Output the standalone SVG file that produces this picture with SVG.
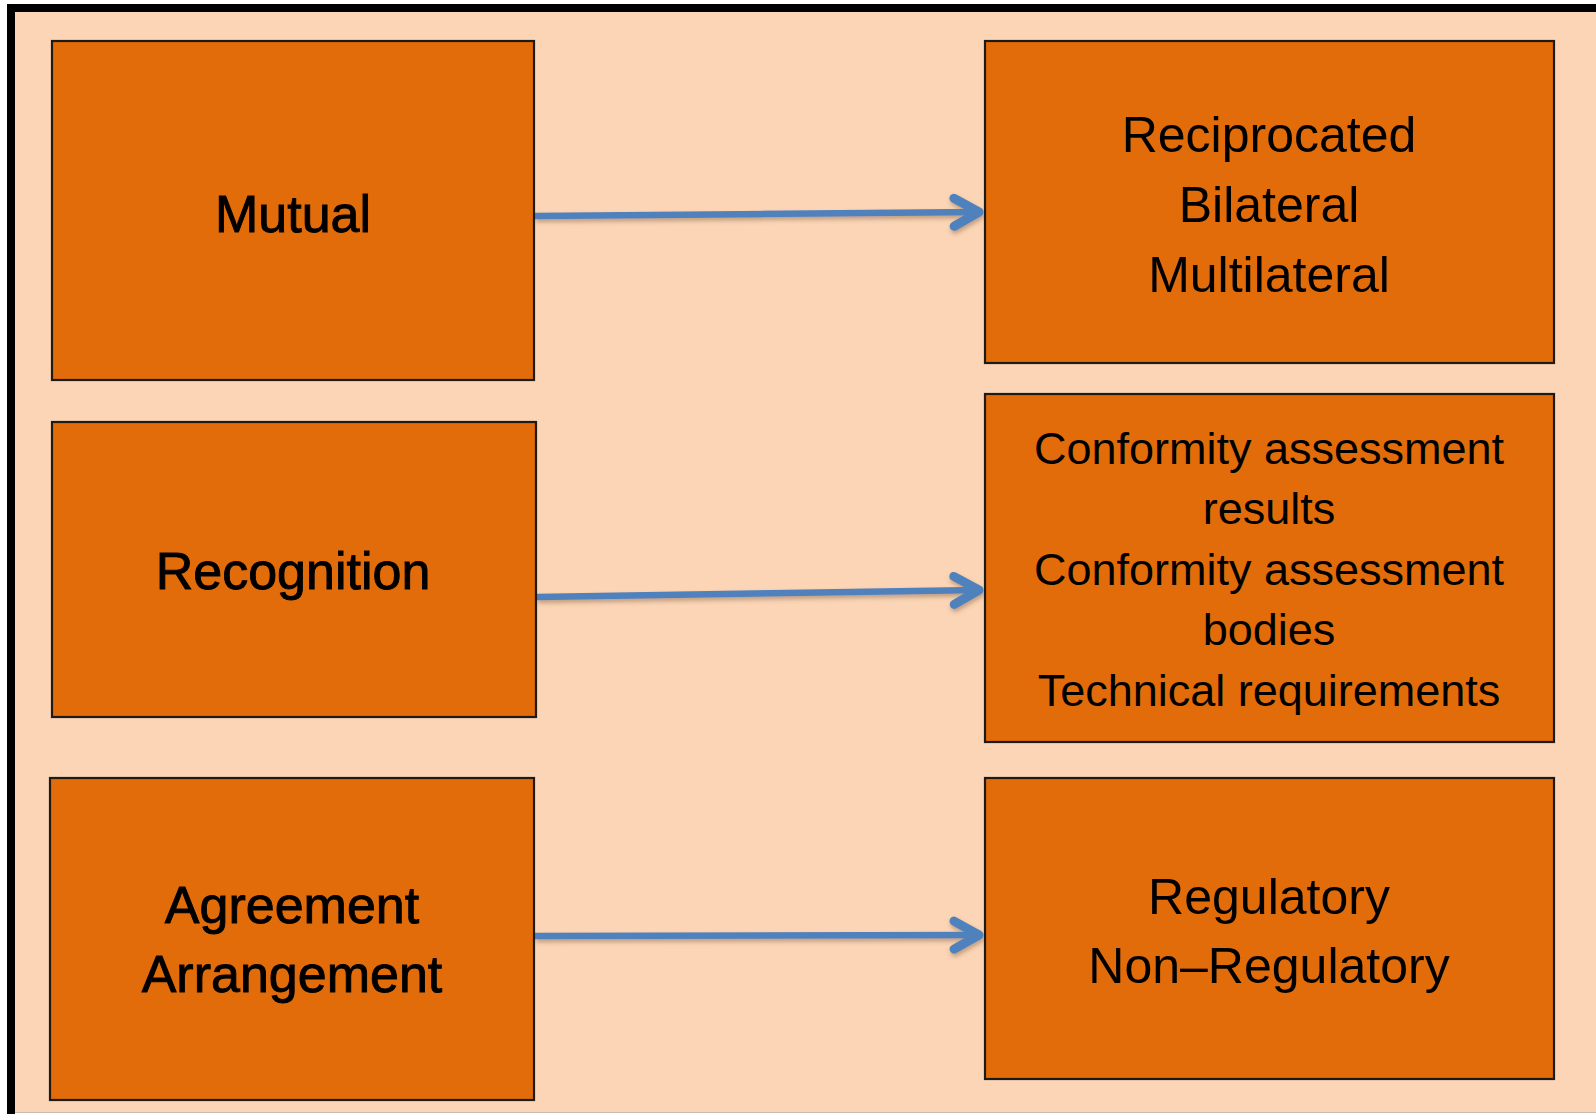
<svg xmlns="http://www.w3.org/2000/svg" width="1596" height="1114" viewBox="0 0 1596 1114">
<defs>
<style>
.box{fill:#E36C0A;stroke:#1e1a16;stroke-width:2.2}
.lbl{font-family:"Liberation Sans",Arial,sans-serif;fill:#000;text-anchor:middle}
.left{font-size:52px;stroke:#000;stroke-width:0.9}
.r50{font-size:50px}
.r45{font-size:45px}
.conn{fill:none;stroke:#4F81BD;stroke-width:6.5;marker-end:url(#ah);filter:url(#sh)}
</style>
<marker id="ah" viewBox="-34 -22 40 44" markerWidth="40" markerHeight="44" refX="0" refY="0" orient="auto" markerUnits="userSpaceOnUse">
<path d="M-26,-14 L-1,0 L-26,14" fill="none" stroke="#4F81BD" stroke-width="9" stroke-linecap="round" stroke-linejoin="round"/>
</marker>
<filter id="sh" filterUnits="userSpaceOnUse" x="0" y="0" width="1596" height="1114">
<feDropShadow dx="1" dy="3" stdDeviation="2" flood-color="#7a5a40" flood-opacity="0.45"/>
</filter>
</defs>
<rect x="0" y="0" width="1596" height="1114" fill="#ffffff"/>
<rect x="11" y="8" width="1590" height="1104" fill="#FBD5B5"/>
<path d="M11,1114 V8 H1596" fill="none" stroke="#000" stroke-width="8"/>
<line x1="15" y1="1112.5" x2="1596" y2="1112.5" stroke="#cbbcae" stroke-width="1"/>

<g id="connectors">
<path class="conn" d="M535,216 L980,212"/>
<path class="conn" d="M537,597 L980,590"/>
<path class="conn" d="M535,936 L980,935"/>
</g>

<g id="node-mutual">
<rect class="box" x="52" y="41" width="482" height="339"/>
<text class="lbl left" x="293" y="232">Mutual</text>
</g>
<g id="node-recognition">
<rect class="box" x="52" y="422" width="484" height="295"/>
<text class="lbl left" x="293" y="589">Recognition</text>
</g>
<g id="node-agreement">
<rect class="box" x="50" y="778" width="484" height="322"/>
<text class="lbl left" x="292" y="923">Agreement</text>
<text class="lbl left" x="292" y="992">Arrangement</text>
</g>
<g id="node-types">
<rect class="box" x="985" y="41" width="569" height="322"/>
<text class="lbl r50" x="1269" y="152">Reciprocated</text>
<text class="lbl r50" x="1269" y="222">Bilateral</text>
<text class="lbl r50" x="1269" y="292">Multilateral</text>
</g>
<g id="node-scope">
<rect class="box" x="985" y="394" width="569" height="348"/>
<text class="lbl r45" x="1269" y="464">Conformity assessment</text>
<text class="lbl r45" x="1269" y="524">results</text>
<text class="lbl r45" x="1269" y="585">Conformity assessment</text>
<text class="lbl r45" x="1269" y="645">bodies</text>
<text class="lbl r45" x="1269" y="706">Technical requirements</text>
</g>
<g id="node-regulatory">
<rect class="box" x="985" y="778" width="569" height="301"/>
<text class="lbl r50" x="1269" y="914">Regulatory</text>
<text class="lbl r50" x="1269" y="983">Non–Regulatory</text>
</g>
</svg>
